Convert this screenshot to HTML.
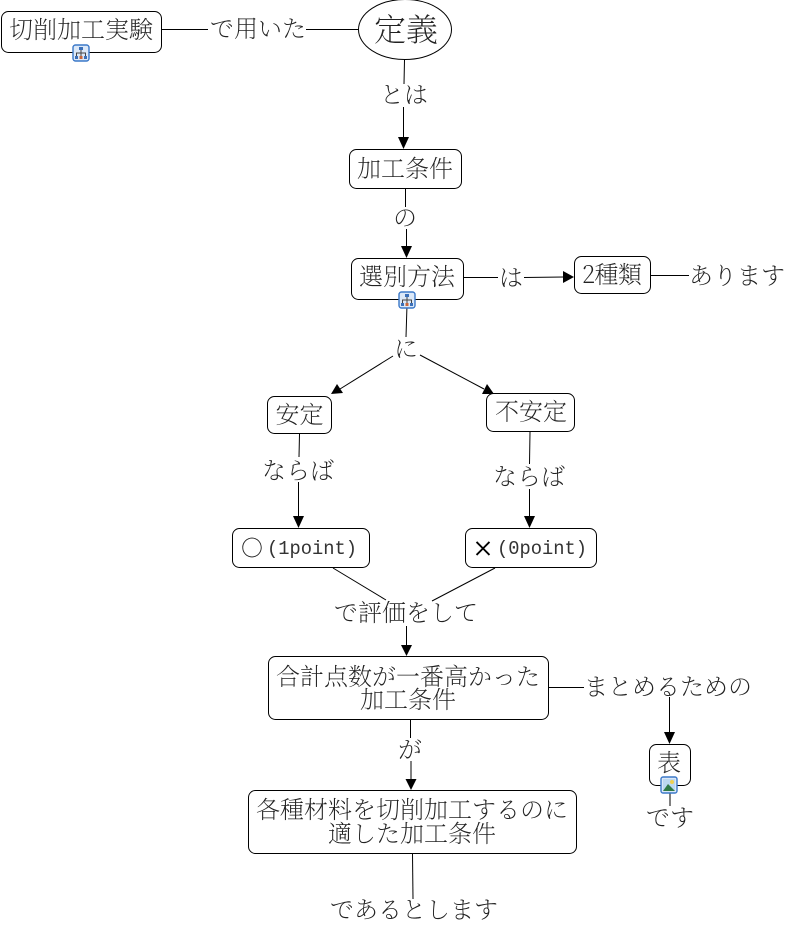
<!DOCTYPE html>
<html><head><meta charset="utf-8"><style>
html,body{margin:0;padding:0;background:#fff;width:787px;height:925px;overflow:hidden}
svg{display:block}
text{font-family:"Noto Serif CJK SC","Liberation Serif",serif;font-size:24px;fill:#222;text-anchor:middle;font-weight:200}
.m{font-family:"Liberation Mono","Noto Serif CJK SC",monospace;font-size:19px;fill:#333}
rect.n{fill:#fff;stroke:#000;stroke-width:1}
line{stroke:#000;stroke-width:1}
polygon{fill:#000}
</style></head><body>
<svg width="787" height="925" viewBox="0 0 787 925" xmlns="http://www.w3.org/2000/svg">
<defs>
<g id="ic"><rect x="-8" y="-8" width="16" height="16" rx="2.5" fill="#dbe8f8" stroke="#3b78c8" stroke-width="1.4"/><rect x="-2" y="-6" width="4" height="3" fill="#3a6fb8"/><path d="M0-3V0M-4.5 3V0H4.500V3M0 0V3" fill="none" stroke="#444" stroke-width="1"/><rect x="-6" y="3" width="3" height="3" fill="#3a6fb8"/><rect x="-1.5" y="3" width="3" height="3" fill="#c8663a"/><rect x="3" y="3" width="3" height="3" fill="#3a6fb8"/></g>
</defs>
<!-- connectors -->
<line x1="162" y1="29.5" x2="208" y2="29.5"/><line x1="306" y1="29.5" x2="358" y2="29.5"/>
<line x1="404.500" y1="60" x2="404" y2="84"/><line x1="403.500" y1="107" x2="403.500" y2="138"/><polygon points="398,137 409,137 403.500,149"/>
<line x1="405.500" y1="189" x2="405.500" y2="207"/><line x1="406.500" y1="229" x2="406.500" y2="247"/><polygon points="401,246 412,246 406.500,258"/>
<line x1="464" y1="277.500" x2="498" y2="277.500"/><line x1="524" y1="277.500" x2="564" y2="277"/><polygon points="563,271 563,283 574,277"/>
<line x1="651" y1="275.500" x2="689" y2="275.500"/>
<line x1="407" y1="305" x2="406" y2="337"/>
<line x1="393" y1="356" x2="340" y2="389"/><polygon points="331,394 337,384 343,393"/>
<line x1="420" y1="355" x2="484" y2="389"/><polygon points="494,394 482,394 487,384"/>
<line x1="299.500" y1="434" x2="299" y2="457"/><line x1="298.500" y1="482" x2="298.500" y2="517"/><polygon points="293,516 304,516 298.500,528"/>
<line x1="530" y1="432" x2="529.500" y2="464"/><line x1="529.500" y1="489" x2="529.500" y2="517"/><polygon points="524,516 535,516 529.500,528"/>
<line x1="333" y1="568" x2="386" y2="600"/><line x1="495" y1="568" x2="432" y2="601"/>
<line x1="406.500" y1="626" x2="406.500" y2="645"/><polygon points="401,645 412,645 406.500,656"/>
<line x1="549" y1="687.500" x2="584" y2="687.500"/><line x1="669.500" y1="697" x2="669.500" y2="733"/><polygon points="664,732 675,732 669.500,744"/>
<line x1="410.500" y1="720" x2="410.500" y2="738"/><line x1="411" y1="761" x2="411" y2="779"/><polygon points="405.500,779 416.500,779 411,790"/>
<line x1="670" y1="793" x2="670" y2="806"/>
<line x1="412.500" y1="854" x2="413" y2="899"/>
<!-- nodes -->
<rect class="n" x="1.500" y="11.500" width="160" height="41" rx="7"/><text x="81" y="38">切削加工実験</text>
<ellipse cx="405" cy="29.500" rx="46.500" ry="30" fill="#fff" stroke="#000"/><text x="406" y="41" style="font-size:32px">定義</text>
<rect class="n" x="349.500" y="149.500" width="112" height="39" rx="7"/><text x="405" y="177">加工条件</text>
<rect class="n" x="351.500" y="258.500" width="112" height="41" rx="7"/><text x="407" y="285">選別方法</text>
<rect class="n" x="574.500" y="256.500" width="76" height="37" rx="7"/><text x="612" y="283" textLength="60">2種類</text>
<rect class="n" x="267.500" y="396.500" width="64" height="37" rx="7"/><text x="299.500" y="423">安定</text>
<rect class="n" x="486.500" y="393.500" width="88" height="38" rx="7"/><text x="531" y="420">不安定</text>
<rect class="n" x="232.500" y="528.500" width="137" height="39" rx="7"/><text x="252" y="556" style="font-size:22px">○</text><text x="312" y="554" class="m" textLength="90" lengthAdjust="spacingAndGlyphs">(1point)</text>
<rect class="n" x="465.500" y="528.500" width="131" height="39" rx="7"/><text x="483" y="556" style="font-size:21px;fill:#000;stroke:#000;stroke-width:1">×</text><text x="542" y="554" class="m" textLength="90" lengthAdjust="spacingAndGlyphs">(0point)</text>
<rect class="n" x="268.500" y="656.500" width="280" height="63" rx="7"/><text x="408" y="685">合計点数が一番高かった</text><text x="408" y="708">加工条件</text>
<rect class="n" x="649.500" y="744.500" width="41" height="41" rx="7"/><text x="669" y="771">表</text>
<rect class="n" x="248.500" y="790.500" width="328" height="63" rx="7"/><text x="412" y="818">各種材料を切削加工するのに</text><text x="412" y="842">適した加工条件</text>
<!-- link labels -->
<text x="258" y="37">で用いた</text>
<text x="404" y="103">とは</text>
<text x="405" y="226">の</text>
<text x="511" y="286">は</text>
<text x="737" y="284">あります</text>
<text x="406" y="357">に</text>
<text x="298" y="479">ならば</text>
<text x="529" y="485">ならば</text>
<text x="406" y="621">で評価をして</text>
<text x="668" y="695">まとめるための</text>
<text x="410" y="758">が</text>
<text x="670" y="826">です</text>
<text x="414" y="918">であるとします</text>
<!-- icons -->
<use href="#ic" transform="translate(81,53)"/>
<use href="#ic" transform="translate(407,300)"/>
<g transform="translate(669,785)"><rect x="-8" y="-8" width="16" height="16" rx="2" fill="#dbe8f8" stroke="#3b78c8" stroke-width="1.400"/><rect x="-6" y="-6" width="12" height="12" fill="#bcd8f0"/><circle cx="3" cy="-3" r="2" fill="#f0d050"/><path d="M-6 6L-1-1 6 6Z" fill="#2f7a45"/></g>
</svg>
</body></html>
